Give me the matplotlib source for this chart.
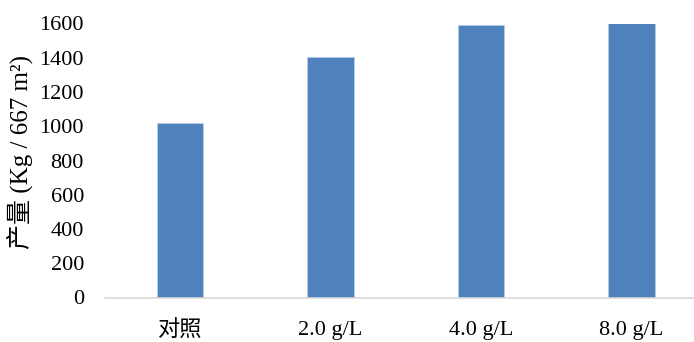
import matplotlib.pyplot as plt

plt.rcParams['font.family'] = ['Liberation Serif', 'Noto Sans CJK SC']

# yield per treatment
categories = ['对照', '2.0 g/L', '4.0 g/L', '8.0 g/L']
yields = [1017, 1404, 1591, 1601]
yticks = [0, 200, 400, 600, 800, 1000, 1200, 1400, 1600]

fig = plt.figure(figsize=(6.94, 3.42), dpi=100)
ax = fig.add_axes([104.75 / 694, 44.5 / 342, 602 / 694, 274 / 342])

x = list(range(len(categories)))
ax.bar(x, yields, width=0.312, color='#4F81BD', edgecolor='#B7CCE6', linewidth=0.6, zorder=2)

ax.set_xlim(-0.5, 3.5)
ax.set_ylim(0, 1600)
ax.set_yticks(yticks)
ax.set_xticks(x)
ax.set_xticklabels(categories)

for side in ['top', 'right', 'left']:
    ax.spines[side].set_visible(False)
ax.spines['bottom'].set_color('#D9D9D9')
ax.spines['bottom'].set_linewidth(1.2)

ax.tick_params(axis='y', length=0, pad=15, labelsize=16)
ax.tick_params(axis='x', length=0, pad=17, labelsize=16)

fig.text(20 / 694, 1 - 152 / 342, '产量 (Kg / 667 m²)', rotation=90,
         ha='center', va='center', fontsize=18)

fig.savefig('out.png', dpi=100)
